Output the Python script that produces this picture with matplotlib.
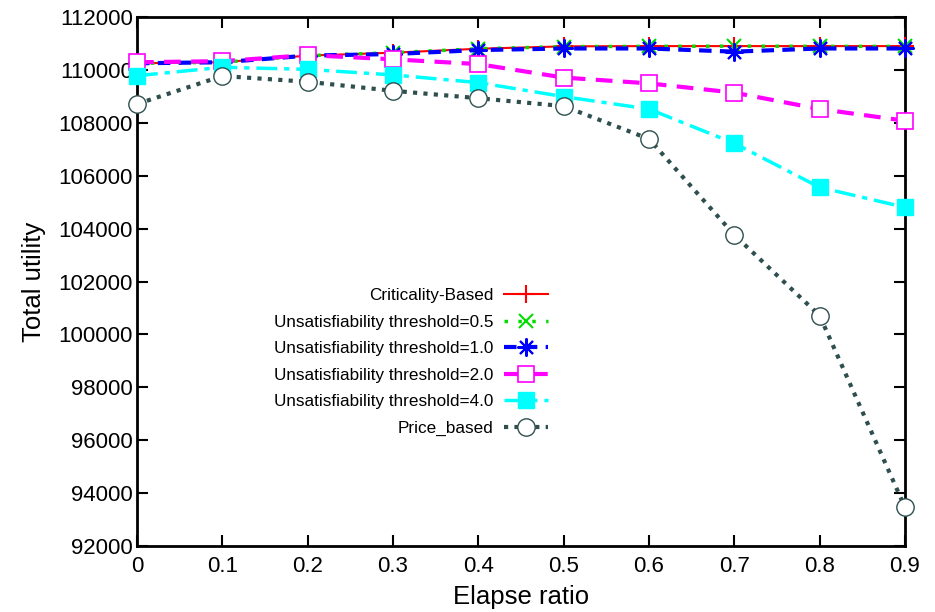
import matplotlib
matplotlib.use("Agg")
import matplotlib.pyplot as plt

plt.rcParams['font.family'] = ['Liberation Sans', 'DejaVu Sans']

elapse = [0, 0.1, 0.2, 0.3, 0.4, 0.5, 0.6, 0.7, 0.8, 0.9]
criticality = [110250, 110290, 110540, 110650, 110800, 110890, 110900, 110900, 110900, 110900]
thr05 = [110250, 110290, 110540, 110650, 110800, 110880, 110890, 110900, 110890, 110890]
thr10 = [110250, 110290, 110540, 110600, 110750, 110810, 110810, 110690, 110810, 110810]
thr20 = [110290, 110330, 110560, 110400, 110220, 109710, 109490, 109140, 108520, 108080]
thr40 = [109780, 110100, 110020, 109810, 109520, 108990, 108520, 107225, 105560, 104805]
price = [108710, 109770, 109550, 109210, 108930, 108630, 107390, 103760, 100710, 93460]

labels = ["Criticality-Based",
          "Unsatisfiability threshold=0.5",
          "Unsatisfiability threshold=1.0",
          "Unsatisfiability threshold=2.0",
          "Unsatisfiability threshold=4.0",
          "Price_based"]
xticks = [0, 0.1, 0.2, 0.3, 0.4, 0.5, 0.6, 0.7, 0.8, 0.9]
yticks = list(range(92000, 112001, 2000))

fig = plt.figure(figsize=(9.35, 6.12), dpi=100)
ax = fig.add_axes([137/935, 1-546/612, (905-137)/935, (546-17)/612])

ax.plot(elapse, criticality, color='#ff0000', lw=1.5, ls='-', marker='+', ms=13, mew=1.5,
        label=labels[0], clip_on=False, zorder=3)
ax.plot(elapse, thr05, color='#00dd00', lw=2.5, ls=(0, (1, 3)), marker='x', ms=10, mew=1.5,
        label=labels[1], clip_on=False, zorder=3)
ax.plot(elapse, thr10, color='#0000ff', lw=3, ls=(0, (3, 2)), marker=(8, 2, 0), ms=13, mew=1.5,
        label=labels[2], clip_on=False, zorder=3)
ax.plot(elapse, thr20, color='#ff00ff', lw=3, ls=(0, (4, 2.5)), marker='s', ms=11.5, mew=1.2,
        mfc='white', mec='#ff00ff', label=labels[3], clip_on=False, zorder=3)
ax.plot(elapse, thr40, color='#00ffff', lw=2.5, ls=(0, (6, 2, 1.5, 2)), marker='s', ms=11.5, mew=1.0,
        mfc='#00ffff', mec='#00ffff', label=labels[4], clip_on=False, zorder=3)
ax.plot(elapse, price, color='#2f4f4f', lw=3, ls=(0, (1, 1.5)), marker='o', ms=12.5, mew=1.0,
        mfc='white', mec='#2f4f4f', label=labels[5], clip_on=False, zorder=3)

ax.set_xlim(0, 0.9)
ax.set_ylim(92000, 112000)
ax.set_xticks(xticks)
ax.set_xticklabels([str(t) for t in xticks])
ax.set_yticks(yticks)
ax.set_yticklabels([str(t) for t in yticks])
ax.tick_params(direction='in', length=8, width=1.5, top=True, right=True, labelsize=16)
ax.tick_params(axis='x', pad=7)
ax.tick_params(axis='y', pad=3)
for s in ax.spines.values():
    s.set_linewidth(2)

ax.set_xlabel("Elapse ratio", fontsize=18.5, labelpad=6)
ax.set_ylabel("Total utility", fontsize=18.5, labelpad=9)

leg = ax.legend(loc='upper right', bbox_to_anchor=(548/935, 1-288/612), bbox_transform=fig.transFigure,
                frameon=False, fontsize=12.3, markerfirst=False, handlelength=2.6,
                labelspacing=0.68, handletextpad=0.6, borderpad=0, borderaxespad=0)
for t in leg.get_texts():
    t.set_ha('right')
leg._legend_box.align = 'right'

fig.savefig("out.png", dpi=100)
